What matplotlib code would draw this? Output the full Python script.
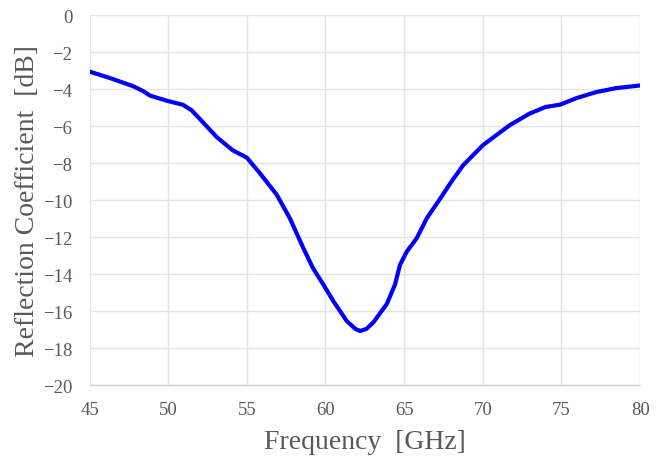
import matplotlib
matplotlib.use("Agg")
import matplotlib.pyplot as plt

freq = [45.0, 46.3, 47.8, 48.4, 48.85, 49.9, 50.96, 51.5, 52.0, 53.1, 54.1, 55.0, 55.84, 56.9,
        57.75, 58.6, 59.2, 59.86, 60.5, 61.35, 61.9, 62.2, 62.6, 63.04, 63.9, 64.42, 64.74, 65.17,
        65.8, 66.44, 67.3, 68.0, 68.76, 70.0, 71.7, 72.97, 74.0, 74.9, 75.97, 77.2, 78.5, 80.0]
s11 = [-3.05, -3.40, -3.85, -4.1, -4.35, -4.62, -4.85, -5.15, -5.6, -6.6, -7.3, -7.7, -8.55, -9.7,
       -11.0, -12.6, -13.66, -14.55, -15.45, -16.52, -16.95, -17.06, -16.95, -16.6, -15.6, -14.55, -13.48, -12.77,
       -12.05, -10.97, -9.9, -9.0, -8.1, -7.03, -5.95, -5.32, -4.96, -4.84, -4.48, -4.16, -3.94, -3.8]

xticks = [45, 50, 55, 60, 65, 70, 75, 80]
yticks = [0, -2, -4, -6, -8, -10, -12, -14, -16, -18, -20]

plt.rcParams['font.family'] = ['Liberation Serif', 'DejaVu Serif']

fig = plt.figure(figsize=(6.65, 4.6), dpi=100)
ax = fig.add_axes([0.1346, 0.160, 0.828, 0.805])
ax.plot(freq, s11, color='#0000ff', lw=3.0, solid_joinstyle='round', solid_capstyle='butt')
ax.set_xlim(45, 80)
ax.set_ylim(-20, 0)
ax.set_xticks(xticks)
ax.set_yticks(yticks)
ax.grid(True, color='#e4e4e4', lw=1.0)
ax.set_axisbelow(True)
for s in ['top', 'right', 'left']:
    ax.spines[s].set_visible(False)
ax.spines['bottom'].set_color('#d0d0d0')
ax.spines['bottom'].set_linewidth(1.0)
ax.tick_params(length=0, labelsize=13.5, labelcolor='#595959')
ax.tick_params(axis='x', pad=11.5)
ax.tick_params(axis='y', pad=12.5)
ax.set_xlabel('Frequency  [GHz]', fontsize=20, color='#595959', labelpad=7.5)
ax.set_ylabel('Reflection Coefficient  [dB]', fontsize=20, color='#595959', labelpad=2)
fig.savefig('out.png', dpi=100)
